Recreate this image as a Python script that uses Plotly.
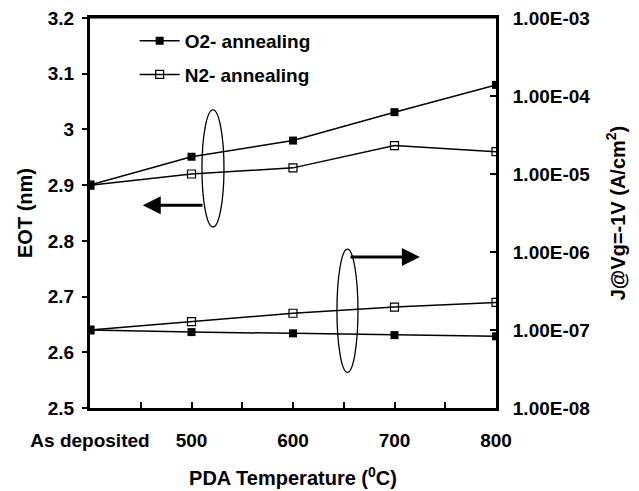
import plotly.graph_objects as go

categories = ["As deposited", "500", "600", "700", "800"]
x_pos = [0, 1, 2, 3, 4]

eot_o2 = [2.90, 2.951, 2.980, 3.031, 3.080]
eot_n2 = [2.90, 2.920, 2.931, 2.971, 2.960]

j_o2 = [1.0e-7, 9.4e-8, 9.06e-8, 8.6e-8, 8.3e-8]
j_n2 = [1.0e-7, 1.28e-7, 1.64e-7, 1.97e-7, 2.26e-7]

eot_ticks = [2.5, 2.6, 2.7, 2.8, 2.9, 3.0, 3.1, 3.2]
eot_ticktext = ["2.5", "2.6", "2.7", "2.8", "2.9", "3", "3.1", "3.2"]
j_ticks = [1e-8, 1e-7, 1e-6, 1e-5, 1e-4, 1e-3]
j_ticktext = ["1.00E-08", "1.00E-07", "1.00E-06", "1.00E-05", "1.00E-04", "1.00E-03"]

FONT = "Liberation Sans"
BLACK = "black"

fig = go.Figure()

line = dict(color=BLACK, width=1.5)
fig.add_trace(go.Scatter(x=x_pos, y=eot_o2, mode="lines+markers", name="O2- annealing",
                         line=line, legendgroup="o2",
                         marker=dict(symbol="square", size=8, color=BLACK)))
fig.add_trace(go.Scatter(x=x_pos, y=eot_n2, mode="lines+markers", name="N2- annealing",
                         line=line, legendgroup="n2",
                         marker=dict(symbol="square-open", size=8, color=BLACK, line=dict(width=1.2))))
fig.add_trace(go.Scatter(x=x_pos, y=j_o2, mode="lines+markers", name="O2- annealing J",
                         line=line, yaxis="y2", showlegend=False,
                         marker=dict(symbol="square", size=8, color=BLACK)))
fig.add_trace(go.Scatter(x=x_pos, y=j_n2, mode="lines+markers", name="N2- annealing J",
                         line=line, yaxis="y2", showlegend=False,
                         marker=dict(symbol="square-open", size=8, color=BLACK, line=dict(width=1.2))))

# ellipses (callouts)
ellipses = [(1.103, 2.825, 1.32, 3.035), (2.433, 2.564, 2.64, 2.785)]
for x0, y0, x1, y1 in ellipses:
    fig.add_shape(type="circle", xref="x", yref="y", x0=x0, y0=y0, x1=x1, y1=y1,
                  line=dict(color=BLACK, width=1.3))

# top frame edge (solid band)
fig.add_shape(type="rect", xref="paper", yref="paper", x0=-0.004, x1=1.004, y0=0.999, y1=1.007,
              fillcolor=BLACK, line=dict(width=0), layer="above")

arrows = [(1.123, 0.52, 2.864), (2.552, 3.25, 2.771)]
for xs, xe, yy in arrows:
    fig.add_annotation(x=xe, y=yy, ax=xs, ay=yy, xref="x", yref="y", axref="x", ayref="y",
                       showarrow=True, arrowhead=2, arrowsize=1.2, arrowwidth=3,
                       arrowcolor=BLACK, text="")

tickfont = dict(family=FONT, size=19, color=BLACK, weight="bold")
titlefont = dict(family=FONT, size=20, color=BLACK, weight="bold")

fig.update_layout(
    width=639, height=491,
    margin=dict(l=90, r=143, t=18, b=83, autoexpand=False),
    paper_bgcolor="white", plot_bgcolor="white",
    showlegend=True,
    legend=dict(x=0.11, y=0.99, xanchor="left", yanchor="top",
                font=dict(family=FONT, size=19, color=BLACK, weight="bold"),
                bgcolor="rgba(0,0,0,0)", itemwidth=40, tracegroupgap=6),
    xaxis=dict(range=[0, 4], tickvals=x_pos, ticktext=categories, automargin=False,
               ticks="inside", ticklen=6, tickwidth=1.5, tickcolor=BLACK,
               minor=dict(ticks="inside", dtick=0.5, tick0=0, ticklen=6, tickwidth=1.5, tickcolor=BLACK),
               showline=True, linecolor=BLACK, linewidth=3, mirror=True,
               showgrid=False, zeroline=False, tickfont=tickfont, ticklabelstandoff=13,
               title=dict(text="PDA Temperature (<sup>0</sup>C)", font=titlefont, standoff=22)),
    yaxis=dict(range=[2.5, 3.2], tickvals=eot_ticks, ticktext=eot_ticktext, automargin=False,
               ticks="outside", ticklen=5, tickwidth=1.5, tickcolor=BLACK,
               showline=True, linecolor=BLACK, linewidth=3, mirror=True,
               showgrid=False, zeroline=False, tickfont=tickfont, ticklabelstandoff=4,
               title=dict(text="EOT (nm)", font=titlefont, standoff=10)),
    yaxis2=dict(type="log", range=[-8, -3], overlaying="y", side="right", automargin=False,
                tickvals=j_ticks, ticktext=j_ticktext,
                ticks="inside", ticklen=6, tickwidth=1.5, tickcolor=BLACK,
                showline=True, linecolor=BLACK, linewidth=3,
                showgrid=False, zeroline=False, tickfont=tickfont, ticklabelstandoff=10,
                title=dict(text="J@Vg=-1V (A/cm<sup>2</sup>)", font=titlefont, standoff=22)),
)

fig.write_html("out.html", config={"displayModeBar": False},
               post_script="document.body.style.margin='0';")
